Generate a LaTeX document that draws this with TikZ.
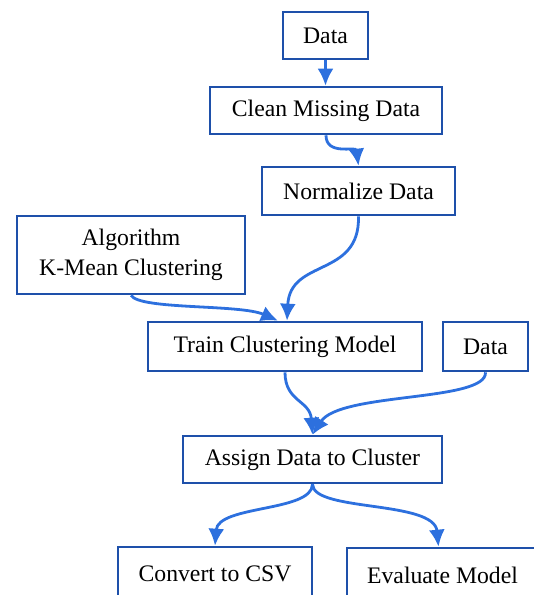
\documentclass[tikz,border=0pt]{standalone}
\usepackage{fontspec}
\setmainfont{Liberation Serif}
\usetikzlibrary{arrows.meta}
\definecolor{boxblue}{RGB}{30,80,170}
\definecolor{linkblue}{RGB}{45,112,222}
\begin{document}
\begin{tikzpicture}[x=1pt,y=-1pt,
  box/.style={draw=boxblue, line width=2.6pt, fill=white, inner sep=0pt, align=center,
    font=\fontsize{23.7}{30}\selectfont},
  link/.style={draw=linkblue, line width=2.8pt, -{Latex[length=17pt,width=16pt]}}]
\useasboundingbox (0,0) rectangle (534,595);
\clip (0,0) rectangle (534,595);
\node[box, minimum width=85pt, minimum height=47pt] (data1) at (325.5,35.5) {Data};
\node[box, minimum width=232pt, minimum height=47pt] (clean) at (326,110.5) {Clean Missing Data};
\node[box, minimum width=193pt, minimum height=48pt] (norm) at (358.5,191) {Normalize Data};
\node[box, minimum width=228pt, minimum height=78pt] (algo) at (131,255) {Algorithm\\K-Mean Clustering};
\node[box, minimum width=274pt, minimum height=49pt] (train) at (285,346.5) {Train Clustering Model};
\node[box, minimum width=85pt, minimum height=49pt] (data2) at (485.5,346.5) {Data};
\node[box, minimum width=259pt, minimum height=47pt] (assign) at (312.5,459.5) {Assign Data to Cluster};
\node[box, minimum width=194pt, minimum height=54pt] (csv) at (215,574) {Convert to CSV};
\node[box, minimum width=191pt, minimum height=54pt] (eval) at (442.5,575) {Evaluate Model};

\draw[link] (data1.south) -- (data1.south |- clean.north);
\draw[link] (clean.south) .. controls (326,156) and (356,146) .. (norm.north);
\draw[link] (norm.south) .. controls (360,278) and (290,258) .. ([xshift=2pt]train.north);
\draw[link] (algo.south) .. controls (140,310) and (240,304) .. ([xshift=-7pt]train.north);
\draw[link] (train.south) .. controls (285,402) and (310,400) .. (assign.north);
\draw[link] (data2.south) .. controls (487,402) and (340,392) .. (assign.north);
\draw[link] (assign.south) .. controls (312,512) and (218,505) .. (csv.north);
\draw[link] (assign.south) .. controls (313,512) and (434,500) .. ([xshift=-4pt]eval.north);
\end{tikzpicture}
\end{document}
